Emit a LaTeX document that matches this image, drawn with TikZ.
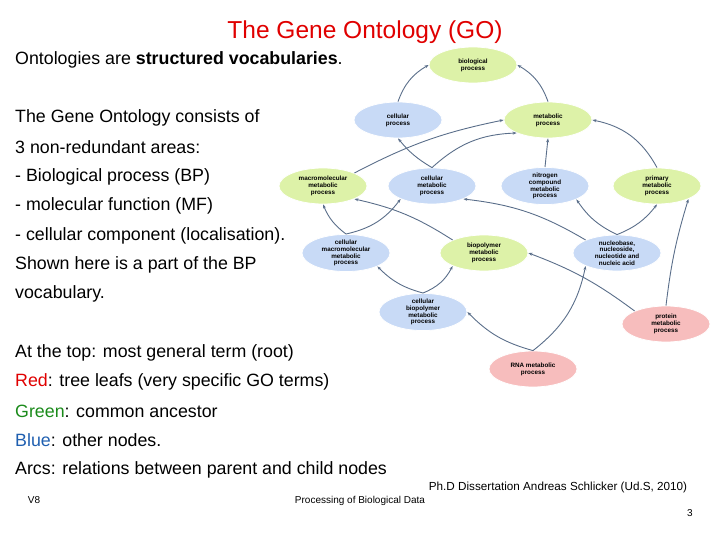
\documentclass[tikz,border=0pt]{standalone}
\usepackage{fontspec}
\setmainfont{Liberation Sans}
\usetikzlibrary{shapes.geometric,arrows.meta}
\definecolor{gfill}{HTML}{DDF2A8}
\definecolor{bfill}{HTML}{C8DAF6}
\definecolor{rfill}{HTML}{F7BDBD}
\definecolor{edge}{HTML}{5A6E8A}
\definecolor{tred}{HTML}{E00000}
\definecolor{tgreen}{HTML}{1A8A1A}
\definecolor{tblue}{HTML}{1F5FB0}
\begin{document}
\begin{tikzpicture}[x=1pt,y=-1pt,
 go/.style={ellipse,minimum width=88pt,minimum height=36pt,inner sep=0pt,align=center,font=\fontsize{6.3}{6.8}\selectfont\bfseries,draw=white,line width=0.8pt},
 gn/.style={go,fill=gfill},bn/.style={go,fill=bfill},rn/.style={go,fill=rfill},
 ar/.style={-{Stealth[length=4pt,width=3pt]},edge,line width=0.9pt},
 lt/.style={anchor=west,font=\fontsize{17.8}{20}\selectfont,inner sep=0pt}]
\useasboundingbox (0,0) rectangle (720,540);
\node[font=\fontsize{24.5}{26}\selectfont,text=tred] (title) at (365,32) {The Gene Ontology (GO)};
\node[lt] (l1) at (15,60) {Ontologies are \textbf{structured vocabularies}.};
\node[lt] (l2) at (15,118) {The Gene Ontology consists of};
\node[lt] (l3) at (15,147) {3 non-redundant areas:};
\node[lt] (l4) at (15,177) {- Biological process (BP)};
\node[lt] (l5) at (15,206) {- molecular function (MF)};
\node[lt] (l6) at (15,236) {- cellular component (localisation).};
\node[lt] (l7) at (15,265) {Shown here is a part of the BP};
\node[lt] (l8) at (15,294) {vocabulary.};
\node[lt] (l9) at (15,353) {At the top: most general term (root)};
\node[lt] (l10) at (15,382) {\textcolor{tred}{Red}: tree leafs (very specific GO terms)};
\node[lt] (l11) at (15,411) {\textcolor{tgreen}{Green}: common ancestor};
\node[lt] (l12) at (15,440) {\textcolor{tblue}{Blue}: other nodes.};
\node[lt] (l13) at (15,470) {Arcs: relations between parent and child nodes};
\node[font=\fontsize{10}{11}\selectfont] (v8) at (34,500) {V8};
\node[font=\fontsize{10}{11}\selectfont] (pbd) at (360,501) {Processing of Biological Data};
\node[font=\fontsize{11.7}{13}\selectfont] (phd) at (558,487) {Ph.D Dissertation Andreas Schlicker (Ud.S, 2010)};
\node[font=\fontsize{10}{11}\selectfont] (pg) at (690,513) {3};

\node[gn] (bp) at (473,65) {biological\\process};
\node[bn] (cp) at (398,120) {cellular\\process};
\node[gn] (mp) at (548,120) {metabolic\\process};
\node[gn] (mm) at (323,186) {macromolecular\\metabolic\\process};
\node[bn] (cm) at (432,186) {cellular\\metabolic\\process};
\node[bn] (nc) at (545,186) {nitrogen\\compound\\metabolic\\process};
\node[gn] (pm) at (657,186) {primary\\metabolic\\process};
\node[bn] (cmm) at (346,253) {cellular\\macromolecular\\metabolic\\process};
\node[gn] (bpm) at (484,253) {biopolymer\\metabolic\\process};
\node[bn] (nb) at (617,253) {nucleobase,\\nucleoside,\\nucleotide and\\nucleic acid};
\node[bn] (cbp) at (423,312) {cellular\\biopolymer\\metabolic\\process};
\node[rn] (pr) at (666,324) {protein\\metabolic\\process};
\node[rn] (rna) at (533,369) {RNA metabolic\\process};

\draw[ar] (cp.north) to[bend left=20] (bp.west);
\draw[ar] (mp.north) to[bend right=20] (bp.east);
\draw[ar] (mm.north east) to[bend left=8] (mp.west);
\draw[ar] (cm.north) to[bend left=10] (cp.south);
\draw[ar] (cm.north) to[bend left=20] (mp.south west);
\draw[ar] (nc.north) to (mp.south);
\draw[ar] (pm.north) to[bend left=-25] (mp.east);
\draw[ar] (cmm.north) to[bend left=15] (mm.south);
\draw[ar] (cmm.north) to[bend left=-20] (cm.south west);
\draw[ar] (bpm.north west) to[bend left=-10] (mm.south east);
\draw[ar] (nb.north west) to[bend left=-12] (cm.south east);
\draw[ar] (nb.north) to[bend left=15] (nc.south east);
\draw[ar] (nb.north) to[bend left=-15] (pm.south);
\draw[ar] (cbp.north) to[bend left=15] (cmm.south east);
\draw[ar] (cbp.north) to[bend left=-20] (bpm.south west);
\draw[ar] (pr.north west) to[bend left=-8] (bpm.east);
\draw[ar] (pr.north) to[bend left=5] (pm.south east);
\draw[ar] (rna.north) to[bend left=15] (cbp.east);
\draw[ar] (rna.north) to[bend left=-20] (nb.south west);
\end{tikzpicture}
\end{document}
